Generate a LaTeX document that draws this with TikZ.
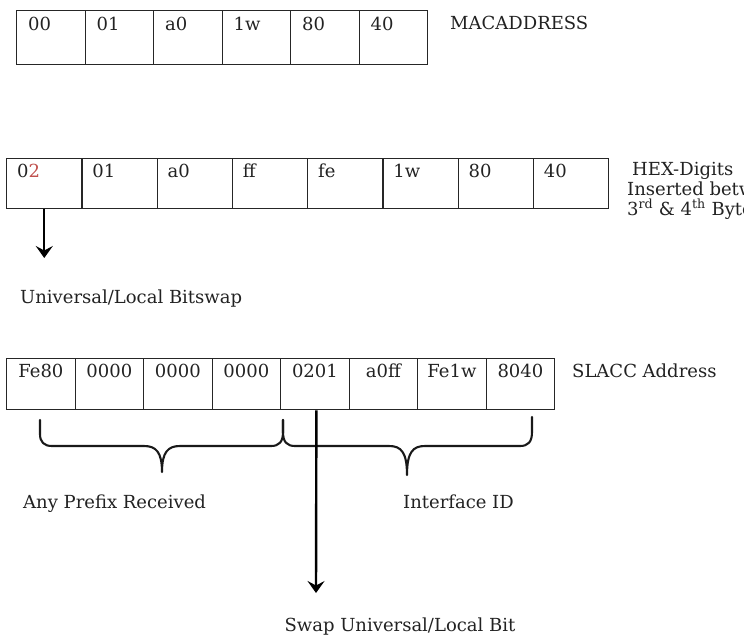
\documentclass[tikz,border=0pt]{standalone}
\usepackage{fontspec}
\setmainfont{DejaVu Serif}
\usetikzlibrary{arrows.meta}
\definecolor{txt}{HTML}{222222}
\definecolor{redbit}{HTML}{C0504D}
\begin{document}
\begin{tikzpicture}[x=1pt,y=-1pt,
  cellbox/.style={draw=black!85, line width=1.3pt, anchor=north west, inner sep=0pt, minimum height=#1},
  ctext/.style={inner sep=0pt, text=txt, font=\fontsize{18}{20}\selectfont},
  lbl/.style={ctext, anchor=base west},
  arr/.style={line width=2.4pt, draw=black, -{Stealth[length=12pt,width=17pt,inset=4.5pt]}},
  bracepath/.style={line width=2.1pt, draw=black!90, line join=round, line cap=round}]
\useasboundingbox (0,0) rectangle (744,637);
\clip (0,0) rectangle (744,637);
% ---- row 1: MAC address
\foreach \t [count=\i] in {00,01,a0,1w,80,40} {
  \node[cellbox=54pt, minimum width=68.5pt] (m\i) at ({16+68.5*(\i-1)},10) {};
  \node[ctext, anchor=base west] (mt\i) at ([xshift=12pt,yshift=-20pt]m\i.north west) {\t};
}
\node[lbl] (maclbl) at (450,29) {MACADDRESS};
% ---- row 2: EUI-64
\foreach \t [count=\i] in {0\textcolor{redbit}{2},01,a0,ff,fe,1w,80,40} {
  \node[cellbox=50pt, minimum width=75.25pt] (e\i) at ({6+75.25*(\i-1)},158) {};
  \node[ctext, anchor=base west] (et\i) at ([xshift=11pt,yshift=-19pt]e\i.north west) {\t};
}
\node[lbl] (hex1) at (632,175) {HEX-Digits};
\node[lbl] (hex2) at (627,195) {Inserted between};
\node[lbl] (hex3) at (627,215) {3\textsuperscript{rd} \& 4\textsuperscript{th} Byte};
\coordinate (a1e) at (43.6,258);
\draw[arr] (e1.south) -- (e1.south |- a1e);
\node[lbl] (ulbl) at (20,303) {Universal/Local Bitswap};
% ---- row 3: SLACC address
\foreach \t [count=\i] in {Fe80,0000,0000,0000,0201,a0ff,Fe1w,8040} {
  \node[cellbox=51pt, minimum width=68.5pt] (s\i) at ({6+68.5*(\i-1)},358) {};
  \node[ctext, anchor=base] (st\i) at ([yshift=-19pt]s\i.north) {\t};
}
\node[lbl] (slbl) at (572,377) {SLACC Address};
% braces
\draw[bracepath] (40,420) -- (40,434) .. controls (40,442) and (44,446) .. (52,446)
  -- (144,446) .. controls (156,446) and (162,452) .. (162,472)
  .. controls (162,452) and (168,446) .. (180,446)
  -- (271,446) .. controls (279,446) and (283,442) .. (283,432) -- (283,420);
\draw[bracepath] (283,420) -- (283,432) .. controls (283,442) and (287,446) .. (295,446)
  -- (389,446) .. controls (401,446) and (407,452) .. (407,475)
  .. controls (407,452) and (413,446) .. (425,446)
  -- (520,446) .. controls (528,446) and (532,442) .. (532,432) -- (532,417);
\node[lbl] (plbl) at (23,508) {Any Prefix Received};
\node[lbl] (ilbl) at (403,508) {Interface ID};
\coordinate (a2e) at (316,593);
\draw[arr] ([xshift=1.5pt]s5.south) -- (a2e);
\node[ctext, anchor=base] (swlbl) at (400,631) {Swap Universal/Local Bit};
\end{tikzpicture}
\end{document}
